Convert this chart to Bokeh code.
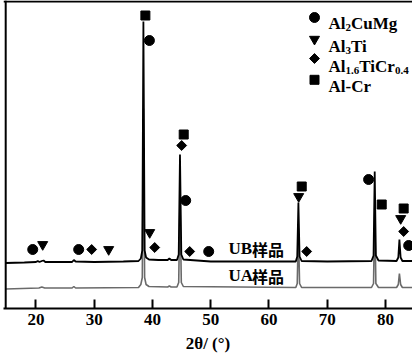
from bokeh.plotting import figure
from bokeh.models import Range1d, Label, FixedTicker, Span
from bokeh.embed import file_html
from bokeh.resources import INLINE
import math

# ---------------- data ----------------
# UB sample pattern (2theta, intensity a.u.)
ub_x = [14.8, 18.0, 20.0, 20.3, 20.6, 21.0, 21.3, 21.6, 26.2, 26.5, 26.8, 30.0, 35.0,
        37.6, 38.0, 38.25, 38.44, 38.65, 38.9, 39.4, 41.0, 42.6, 42.9, 43.2, 44.2,
        44.5, 44.72, 44.95, 45.3, 50.0, 60.0, 64.6, 64.85, 65.05, 65.25, 65.6, 70.0,
        77.6, 77.95, 78.15, 78.35, 78.8, 81.9, 82.2, 82.39, 82.6, 82.9, 84.7]
ub_y = [45.5, 46.0, 46.5, 47.5, 46.5, 47.5, 48.0, 46.5, 46.5, 48.5, 47.0, 46.5, 47.0,
        47.5, 50.0, 58.0, 287.0, 58.0, 51.0, 49.0, 48.5, 48.5, 50.0, 48.5, 48.5,
        54.0, 154.0, 54.0, 49.0, 47.0, 47.0, 47.0, 52.0, 106.0, 52.0, 47.5, 47.0,
        47.5, 53.0, 137.0, 53.0, 48.0, 47.5, 51.0, 69.0, 51.0, 47.5, 47.5]
# UA sample pattern
ua_x = [14.8, 20.5, 21.0, 21.5, 26.2, 26.5, 26.8, 37.6, 38.0, 38.25, 38.44, 38.65,
        38.9, 39.4, 42.6, 42.9, 43.2, 44.2, 44.5, 44.72, 44.95, 45.3, 64.6, 64.85,
        65.05, 65.25, 65.6, 77.6, 77.95, 78.15, 78.35, 78.8, 81.9, 82.2, 82.39, 82.6,
        82.9, 84.7]
ua_y = [19.5, 20.5, 21.5, 20.5, 20.5, 22.0, 20.5, 21.0, 24.0, 31.0, 200.0, 31.0,
        24.0, 22.0, 21.5, 22.5, 21.5, 21.5, 26.0, 110.0, 26.0, 22.0, 21.0, 25.0,
        80.0, 25.0, 21.0, 21.0, 25.0, 100.0, 25.0, 21.0, 21.0, 24.0, 35.0, 24.0,
        21.0, 21.0]

# phase markers
al2cumg_x = [19.44, 27.33, 39.47, 45.70, 49.65, 77.10, 83.98]
al2cumg_y = [59, 59, 268, 108, 57, 129, 63]
al3ti_x = [21.15, 32.48, 39.52, 65.10, 82.61]
al3ti_y = [64, 59, 76, 112, 90]
al16ticr04_x = [29.56, 40.38, 45.01, 46.39, 66.47, 83.12]
al16ticr04_y = [59, 61, 163, 57, 57, 77]
alcr_x = [38.78, 45.36, 65.62, 79.35, 83.12]
alcr_y = [293, 174, 122, 104, 100]

x_ticks = [20, 30, 40, 50, 60, 70, 80]
x_start = 14.8
sample_names = ["UB", "UA"]
sample_suffix = "样品"
x_title = "2θ/ (°)"

SERIF = "Liberation Serif"
CJK = "Noto Sans CJK SC"

W, H = 412, 356
frame_left = 3
px_per_unit = 5.825
xr_start = x_start - 2.2 / px_per_unit
xr_end = xr_start + (W - frame_left) / px_per_unit

p = figure(width=W, height=H, output_backend="svg", toolbar_location=None,
           x_range=Range1d(xr_start, xr_end), y_range=Range1d(0, 308),
           min_border_left=frame_left, min_border_right=0, min_border_top=0,
           min_border_bottom=48, background_fill_color="white",
           border_fill_color="white")
p.outline_line_color = None
p.grid.visible = False
p.yaxis.visible = False

# bottom axis
xa = p.xaxis[0]
xa.ticker = FixedTicker(ticks=x_ticks)
xa.axis_line_width = 2
xa.axis_line_color = "black"
xa.major_tick_in = 9
xa.major_tick_out = 0
xa.major_tick_line_width = 2
xa.minor_tick_line_color = None
xa.major_label_text_font = SERIF
xa.major_label_text_font_style = "bold"
xa.major_label_text_font_size = "17px"
xa.major_label_text_color = "black"
xa.major_label_standoff = 5
xa.axis_label = x_title
xa.axis_label_text_font = SERIF
xa.axis_label_text_font_style = "bold"
xa.axis_label_text_font_size = "17px"
xa.axis_label_text_color = "black"
xa.axis_label_standoff = 6

# left and top frame borders
p.add_layout(Span(location=x_start, dimension="height", line_color="black", line_width=2))
p.add_layout(Span(location=307, dimension="width", line_color="black", line_width=2))

# traces
p.line(ua_x, ua_y, line_color="#6a6a6a", line_width=1.6)
p.line(ub_x, ub_y, line_color="black", line_width=1.8)

# markers
p.scatter(al2cumg_x, al2cumg_y, marker="circle", size=10, color="black")
p.scatter(al3ti_x, al3ti_y, marker="inverted_triangle", size=10, color="black")
p.scatter(al16ticr04_x, al16ticr04_y, marker="square", size=7, angle=math.pi / 4,
          color="black")
p.scatter(alcr_x, alcr_y, marker="square", size=9, color="black")

# legend (manual, with subscripts)
def px_to_x(px):
    return x_start + (px - 13.2) / px_per_unit

lx_marker = px_to_x(322)
lx_text = px_to_x(336)
rows_y = [285.3, 261.7, 242.0, 221.7]
marker_y = [291, 269.3, 250, 228.7]
p.scatter([lx_marker], [marker_y[0]], marker="circle", size=10, color="black")
p.scatter([lx_marker], [marker_y[1]], marker="inverted_triangle", size=10, color="black")
p.scatter([lx_marker], [marker_y[2]], marker="square", size=7, angle=math.pi / 4, color="black")
p.scatter([lx_marker], [marker_y[3]], marker="square", size=9, color="black")

legend_pieces = [
    [("Al", 0, False), ("2", 17, True), ("CuMg", 22.5, False)],
    [("Al", 0, False), ("3", 17, True), ("Ti", 22.5, False)],
    [("Al", 0, False), ("1.6", 17, True), ("TiCr", 30.75, False), ("0.4", 66.6, True)],
    [("Al-Cr", 0, False)],
]
for ry, pieces in zip(rows_y, legend_pieces):
    for txt, off, sub in pieces:
        p.add_layout(Label(x=lx_text, y=ry - (3.8 if sub else 0), x_offset=off,
                           text=txt, text_font=SERIF, text_font_style="bold",
                           text_font_size="11px" if sub else "17px",
                           text_color="black", text_baseline="alphabetic",
                           text_align="left"))

# sample labels
for name, yy in zip(sample_names, [60, 33]):
    p.add_layout(Label(x=px_to_x(236), y=yy, text=name, text_font=SERIF,
                       text_font_style="bold", text_font_size="17px",
                       text_baseline="middle", text_align="left", text_color="black"))
    p.add_layout(Label(x=px_to_x(236), y=yy, x_offset=23.5, text=sample_suffix,
                       text_font=CJK, text_font_style="bold", text_font_size="16px",
                       text_baseline="middle", text_align="left", text_color="black"))

open("out.html", "w").write(file_html(p, INLINE))
